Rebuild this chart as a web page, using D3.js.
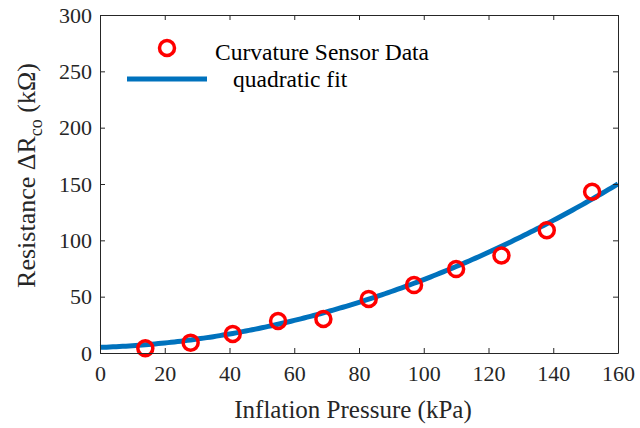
<!DOCTYPE html>
<html>
<head>
<meta charset="utf-8">
<script src="https://cdn.jsdelivr.net/npm/d3@7"></script>
<style>
  body { margin: 0; background: #fff; }
  svg { display: block; }
</style>
</head>
<body>
<svg id="chart" width="640" height="428"></svg>
<script>
// measured sensor data
var pressure = [14, 28, 41, 55, 69, 83, 97, 110, 124, 138, 152];
var resistance = [4.2, 9.2, 16.9, 28.4, 30.2, 48, 60.3, 74.5, 86.5, 109, 143.1];

// quadratic fit y = a*x^2 + b*x + c
var fitCoef = [0.00508, 0.0937, 5];

var xTicks = [0, 20, 40, 60, 80, 100, 120, 140, 160];
var yTicks = [0, 50, 100, 150, 200, 250, 300];

var legendLabels = ["Curvature Sensor Data", "quadratic fit"];

var margin = {left: 100, right: 22, top: 15, bottom: 75};
var W = 640, H = 428;
var serif = '"Liberation Serif", "Times New Roman", serif';
var svg = d3.select('#chart');

var x = d3.scaleLinear().domain([0, 160]).range([margin.left, W - margin.right]);
var y = d3.scaleLinear().domain([0, 300]).range([H - margin.bottom, margin.top]);

var axisColor = '#262626';

// fit curve, sampled along x
var fitX = d3.range(0, 160.01, 1);
var line = d3.line()
    .x(function(d){ return x(d); })
    .y(function(d){ return y(fitCoef[0]*d*d + fitCoef[1]*d + fitCoef[2]); });

svg.append('path')
    .datum(fitX)
    .attr('d', line)
    .attr('fill', 'none')
    .attr('stroke', '#0072BD')
    .attr('stroke-width', 5);

svg.append('g').selectAll('circle')
    .data(pressure)
    .enter()
    .append('circle')
    .attr('cx', function(d){ return x(d); })
    .attr('cy', function(d, i){ return y(resistance[i]); })
    .attr('r', 7.5)
    .attr('fill', 'none')
    .attr('stroke', '#FF0000')
    .attr('stroke-width', 3.5);

// axes box with inward ticks on all sides
var tickLen = 5;
var axB = svg.append('g').attr('transform', 'translate(0,' + y(0) + ')')
    .call(d3.axisBottom(x).tickValues(xTicks).tickSizeInner(-tickLen).tickSizeOuter(0).tickPadding(12));
var axT = svg.append('g').attr('transform', 'translate(0,' + y(300) + ')')
    .call(d3.axisTop(x).tickValues(xTicks).tickSizeInner(-tickLen).tickSizeOuter(0).tickFormat(''));
var axL = svg.append('g').attr('transform', 'translate(' + x(0) + ',0)')
    .call(d3.axisLeft(y).tickValues(yTicks).tickSizeInner(-tickLen).tickSizeOuter(0).tickPadding(8));
var axR = svg.append('g').attr('transform', 'translate(' + x(160) + ',0)')
    .call(d3.axisRight(y).tickValues(yTicks).tickSizeInner(-tickLen).tickSizeOuter(0).tickFormat(''));

[axB, axT, axL, axR].forEach(function(g){
    g.attr('font-family', serif).attr('font-size', 22);
    g.select('.domain').attr('stroke', axisColor).attr('stroke-width', 1);
    g.selectAll('.tick line').attr('stroke', axisColor);
    g.selectAll('.tick text').attr('fill', axisColor);
});
axL.selectAll('.tick text').attr('dy', '0.33em');

// axis labels
svg.append('text')
    .attr('x', (x(0) + x(160)) / 2 - 6)
    .attr('y', 418)
    .attr('text-anchor', 'middle')
    .attr('fill', axisColor)
    .attr('font-family', serif)
    .attr('font-size', 25)
    .text('Inflation Pressure (kPa)');

// y label: one flowing text, its top end placed where the original's ")" sits
var yl = svg.append('text')
    .attr('transform', 'translate(35,63) rotate(-90)')
    .attr('text-anchor', 'end')
    .attr('fill', axisColor)
    .attr('font-family', serif)
    .attr('font-size', 26);
yl.append('tspan').text('Resistance \u0394R');
yl.append('tspan').attr('dy', 7).attr('font-size', 18).text('co');
yl.append('tspan').attr('dy', -7).text(' (k\u03A9)');

// legend
var leg = svg.append('g');
leg.append('circle')
    .attr('cx', 167).attr('cy', 48).attr('r', 7.5)
    .attr('fill', 'none').attr('stroke', '#FF0000').attr('stroke-width', 3.5);
leg.append('line')
    .attr('x1', 127).attr('x2', 207).attr('y1', 79).attr('y2', 79)
    .attr('stroke', '#0072BD').attr('stroke-width', 5);
leg.selectAll('text.lab')
    .data(legendLabels)
    .enter()
    .append('text')
    .attr('class', 'lab')
    .attr('x', function(d, i){ return i === 0 ? 215 : 233; })
    .attr('y', function(d, i){ return i === 0 ? 60 : 87; })
    .attr('fill', '#000')
    .attr('font-family', serif)
    .attr('font-size', 23.5)
    .text(function(d){ return d; });
</script>
</body>
</html>
